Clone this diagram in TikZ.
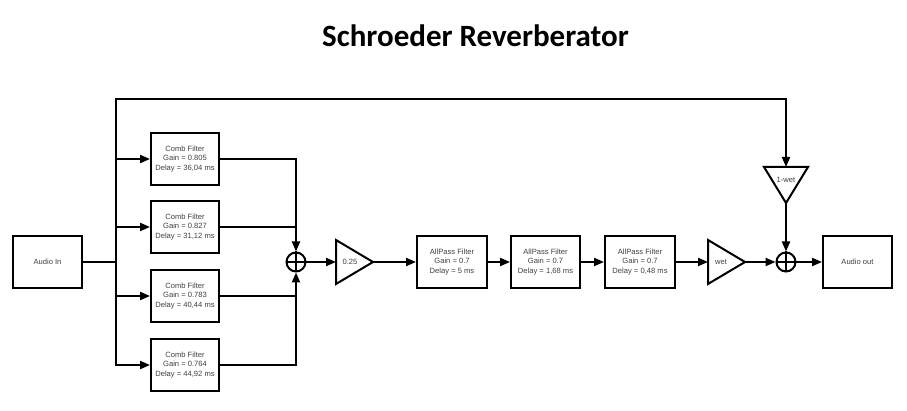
\documentclass[tikz,border=0pt]{standalone}
\usepackage{fontspec}
\setmainfont{Liberation Sans}
\newfontfamily\titlefont{Carlito}
\usetikzlibrary{arrows.meta}
\begin{document}
\begin{tikzpicture}[x=1pt,y=-1pt,
  wire/.style={line width=2pt,line cap=rect},
  arr/.style={wire,-{Triangle[length=10pt,width=8pt]}},
  blockbox/.style={draw,line width=2pt,minimum width=69pt,minimum height=52pt,inner sep=0pt,
    font=\fontsize{7.6}{9.2}\selectfont,text=black!75,align=center},
  sumnode/.style={draw,circle,line width=2pt,minimum size=19pt,inner sep=0pt},
  gaintext/.style={font=\fontsize{7.6}{9.2}\selectfont,text=black!75,inner sep=0pt},
  tri/.style={line width=2pt,line join=miter}]
\useasboundingbox (0,0) rectangle (907,411);
\node[font=\titlefont\bfseries\fontsize{31}{36}\selectfont,anchor=base] (title) at (475.5,47) {Schroeder Reverberator};

% input
\node[blockbox] (in) at (47.5,262) {Audio In};
\coordinate (jx) at (116,262);
\coordinate (busTop) at (116,99);
\coordinate (busBot) at (116,365);

% comb filters
\node[blockbox,minimum width=68pt] (c1) at (185,159) {Comb Filter\\Gain = 0.805\\Delay = 36,04 ms};
\node[blockbox,minimum width=68pt] (c2) at (185,227) {Comb Filter\\Gain = 0.827\\Delay = 31,12 ms};
\node[blockbox,minimum width=68pt] (c3) at (185,296) {Comb Filter\\Gain = 0.783\\Delay = 40,44 ms};
\node[blockbox,minimum width=68pt] (c4) at (185,365) {Comb Filter\\Gain = 0.764\\Delay = 44,92 ms};

% first sum
\node[sumnode] (s1) at (296,262) {};
\draw[line width=2pt] (s1.north) -- (s1.south) (s1.west) -- (s1.east);

% gain 0.25
\draw[tri] (336,240) -- (373,262) -- (336,284) -- cycle;
\coordinate (g1in) at (336,262);
\coordinate (g1out) at (373,262);
\node[gaintext] (g1) at (350,262) {0.25};

% allpass
\node[blockbox,minimum width=70pt] (a1) at (452,262) {AllPass Filter\\Gain = 0.7\\Delay = 5 ms};
\node[blockbox,minimum width=69pt] (a2) at (545.5,262) {AllPass Filter\\Gain = 0.7\\Delay = 1,68 ms};
\node[blockbox,minimum width=70pt] (a3) at (640,262) {AllPass Filter\\Gain = 0.7\\Delay = 0,48 ms};

% wet gain
\draw[tri] (708,240) -- (745,262) -- (708,284) -- cycle;
\coordinate (gwin) at (708,262);
\coordinate (gwout) at (745,262);
\node[gaintext] (gw) at (721,262) {wet};

% 1-wet gain
\draw[tri] (764,167) -- (808,167) -- (786,203) -- cycle;
\coordinate (gdin) at (786,167);
\coordinate (gdout) at (786,203);
\node[gaintext] (gd) at (786,180) {1-wet};

% second sum
\node[sumnode] (s2) at (786,262) {};
\draw[line width=2pt] (s2.north) -- (s2.south) (s2.west) -- (s2.east);

% output
\node[blockbox] (out) at (857.5,262) {Audio out};

% connectors
\draw[wire] (in.east) -- (jx);
\draw[wire] (busTop) -- (busBot);
\draw[arr] (c1.west -| jx) -- (c1.west);
\draw[arr] (c2.west -| jx) -- (c2.west);
\draw[arr] (c3.west -| jx) -- (c3.west);
\draw[arr] (busBot) -- (c4.west);
\draw[arr] (c1.east) -| (s1.north);
\draw[wire] (c2.east) -- (c2.east -| s1.north);
\draw[wire] (c3.east) -- (c3.east -| s1.south);
\draw[arr] (c4.east) -| (s1.south);
\draw[arr] (s1.east) -- (g1in);
\draw[arr] (g1out) -- (a1.west);
\draw[arr] (a1.east) -- (a2.west);
\draw[arr] (a2.east) -- (a3.west);
\draw[arr] (a3.east) -- (gwin);
\draw[arr] (gwout) -- (s2.west);
\draw[arr] (busTop) -| (gdin);
\draw[arr] (gdout) -- (s2.north);
\draw[arr] (s2.east) -- (out.west);
\end{tikzpicture}
\end{document}
